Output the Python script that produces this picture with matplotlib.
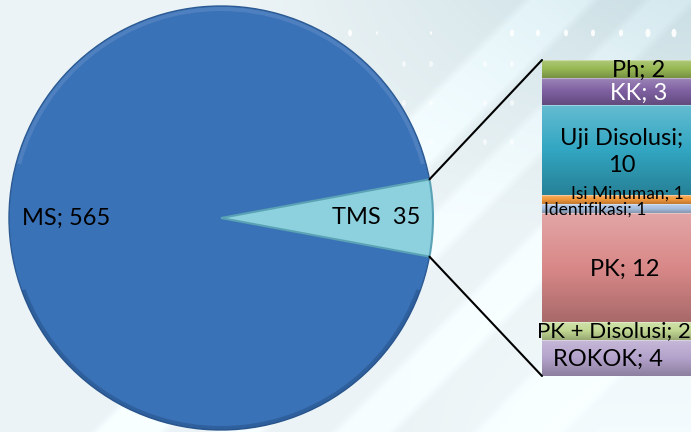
import numpy as np
import matplotlib
matplotlib.use("Agg")
import matplotlib.pyplot as plt
from matplotlib.patches import ConnectionPatch, Ellipse, Wedge
from matplotlib.transforms import blended_transform_factory

# ---- data -------------------------------------------------------------
pie_labels = ["MS", "TMS"]
pie_values = [565, 35]

bar_labels = ["Ph", "KK", "Uji Disolusi", "Isi Minuman", "Identifikasi",
              "PK", "PK + Disolusi", "ROKOK"]
bar_values = [2, 3, 10, 1, 1, 12, 2, 4]

# ---- styling ----------------------------------------------------------
plt.rcParams["font.family"] = ["Lato", "DejaVu Sans"]

pie_colors = ["#3a72b8", "#8dd0de"]
bar_colors = ["#98b954", "#7e60a1", "#32a6c2", "#f59a3c", "#a9c1e1",
              "#d98888", "#c2d893", "#b4a3cc"]
bar_text_colors = ["black", "white", "black", "black", "black",
                   "black", "black", "black"]
bar_font = [17, 17, 17, 12.5, 12.5, 17, 16, 17]
bar_label_x = [639, 639, 622, 627, 595, 625, 614, 608]   # pixel centres
bar_label_dy = [0.15, 0.15, 0.2, -0.75, 0.05, 0.2, 0.05, 0.15]
bar_label_text = ["{}; {}", "{}; {}", "{};\n{}", "{}; {}", "{}; {}",
                  "{}; {}", "{}; {}", "{}; {}"]

W, H = 691, 432
fig = plt.figure(figsize=(W / 100, H / 100), dpi=100)
ax = fig.add_axes([0, 0, 1, 1])

# ---- background -------------------------------------------------------
yy, xx = np.mgrid[0:H, 0:W].astype(float)
light = np.array([0.925, 0.955, 0.965])
bg = np.ones((H, W, 3)) * light
upper_right = np.clip((xx - 250) / 420, 0, 1) * np.clip(1 - yy / 230, 0, 1)
bg -= upper_right[..., None] * np.array([0.13, 0.08, 0.07])
s = xx + yy
for lo, hi, amt in [(520, 600, 0.05), (640, 700, 0.04), (760, 830, 0.04),
                    (900, 1000, 0.03)]:
    band = np.clip(np.minimum(s - lo, hi - s) / 12, 0, 1)
    bg += band[..., None] * amt
lower = np.clip((yy - 250) / 180, 0, 1) * np.clip((xx - 400) / 200, 0, 1)
bg += lower[..., None] * 0.03
bg = np.clip(bg, 0, 1)
ax.imshow(bg, extent=(0, W, H, 0), aspect="auto", zorder=0)

# decorative dots
dot_x = [324, 350, 377, 431, 512, 538, 566, 593, 621, 648, 674]
dot_w = [3, 4, 2, 2, 4, 4, 4, 4, 4, 5, 5]
for x, w in zip(dot_x, dot_w):
    ax.add_patch(Ellipse((x, 33), w, w * 1.7, color="white", alpha=0.9,
                         lw=0, zorder=1))
for gx in [404, 431, 485, 512]:
    for gy in [64, 103, 142]:
        ax.add_patch(Ellipse((gx, gy), 4, 6, color="white", alpha=0.6,
                             lw=0, zorder=1))

# ---- pie --------------------------------------------------------------
cx, cy, r = 221, 218, 212
share = pie_values[1] / sum(pie_values) * 360
start = share / 2
wedges, texts = ax.pie(
    pie_values, colors=pie_colors, startangle=start, center=(cx, cy),
    radius=r, labels=[f"{pie_labels[0]}; {pie_values[0]}",
                      f"{pie_labels[1]}  {pie_values[1]}"],
    labeldistance=0.73, frame=True,
    wedgeprops=dict(edgecolor="#2c5a93", linewidth=1.0),
    textprops=dict(fontsize=17, color="black"))
for t in texts:
    t.set_ha("center")
    t.set_va("center")
wedges[1].set_edgecolor("#5aa3b6")
wedges[1].set_linewidth(1.5)
for w in wedges:
    w.set_zorder(3)
for t in texts:
    t.set_zorder(6)

# bevel highlight on the upper rim and shade on the lower rim
ax.add_patch(Wedge((cx, cy), r - 1, 195, 345, width=4, color="white",
                   alpha=0.1, lw=0, zorder=4))
ax.add_patch(Wedge((cx, cy), r, 20, 160, width=4, color="#1d3f6e",
                   alpha=0.35, lw=0, zorder=4))

ax.set_xlim(0, W)
ax.set_ylim(H, 0)
ax.set_aspect("auto")
ax.axis("off")

# ---- stacked bar ------------------------------------------------------
bar_left, bar_right, bar_top, bar_bottom = 542, 736, 60, 376
bax = fig.add_axes([bar_left / W, 1 - bar_bottom / H,
                    (bar_right - bar_left) / W, (bar_bottom - bar_top) / H])
total = sum(bar_values)
bottoms = np.concatenate([[0], np.cumsum(bar_values)[:-1]])
bars = bax.bar(0.5, bar_values, width=1.0, bottom=bottoms, color=bar_colors,
               edgecolor="none", zorder=2)

grad = np.zeros((64, 1, 4))
a = np.linspace(0, 1, 64)
grad[..., 0:3] = np.where(a < 0.5, 1.0, 0.0)[:, None, None] * np.ones(3)
grad[..., 3] = np.where(a < 0.5, (0.5 - a) * 0.5, (a - 0.5) * 0.45)[:, None]
for rect, b, v in zip(bars, bottoms, bar_values):
    im = bax.imshow(grad, extent=(0, 1, b + v, b), aspect="auto", zorder=3,
                    interpolation="bilinear")
    im.set_clip_path(rect)
    bax.plot([0, 1], [b, b], color="white", alpha=0.35, lw=0.8, zorder=4)

bax.set_xlim(0, 1)
bax.set_ylim(total, 0)
bax.axis("off")

# bar labels
tr = blended_transform_factory(ax.transData, bax.transData)
for i, (lab, v, b) in enumerate(zip(bar_labels, bar_values, bottoms)):
    y = b + v / 2 + bar_label_dy[i]
    txt = bar_label_text[i].format(lab, v)
    bax.text(bar_label_x[i], y, txt, transform=tr, ha="center", va="center",
             fontsize=bar_font[i], color=bar_text_colors[i],
             linespacing=1.35, zorder=6, clip_on=False)

# ---- connector lines --------------------------------------------------
th1, th2 = np.radians(wedges[1].theta1), np.radians(wedges[1].theta2)
p1 = (cx + r * np.cos(th1), cy + r * np.sin(th1))
p2 = (cx + r * np.cos(th2), cy + r * np.sin(th2))
top_pt, bot_pt = sorted([p1, p2], key=lambda p: p[1])
for pa, pb in [(top_pt, (0, 0)), (bot_pt, (0, total))]:
    con = ConnectionPatch(xyA=pa, coordsA=ax.transData, xyB=pb,
                          coordsB=bax.transData, color="black", lw=1.5,
                          zorder=5)
    fig.add_artist(con)

fig.savefig("out.png", dpi=100)
